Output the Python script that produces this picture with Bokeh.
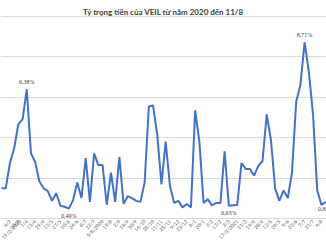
import math
from bokeh.plotting import figure
from bokeh.models import Range1d, FixedTicker, ColumnDataSource, LabelSet, Label
from bokeh.embed import file_html
from bokeh.resources import INLINE

title = "Tỷ trọng tiền của VEIL từ năm 2020 đến 11/8"

dates = ["19/2/2020", "26/2", "4/3", "11/3", "18/3", "25/3", "1/4", "8/4", "15/4", "22/4",
         "29/4", "6/5", "13/5", "20/5", "27/5", "3/6", "10/6", "17/6", "24/6", "1/7",
         "8/7", "15/7", "22/7", "29/7", "5/8/2020", "12/8", "19/8", "26/8", "2/9", "9/9",
         "16/9", "23/9", "30/9", "7/10", "14/10", "21/10", "28/10", "4/11", "11/11", "18/11",
         "25/11", "2/12", "9/12", "16/12", "23/12", "30/12", "6/1", "13/1", "20/1", "27/1",
         "3/2", "10/2", "17/2", "24/2", "3/3", "10/3", "17/3/2021", "24/3", "31/3", "7/4",
         "14/4", "21/4", "28/4", "5/5", "12/5", "19/5", "26/5", "2/6", "9/6", "16/6",
         "23/6", "30/6", "7/7", "14/7", "21/7", "28/7", "4/8", "11/8"]

share = [1.49, 1.49, 2.74, 3.46, 4.66, 4.90, 6.38, 3.22, 2.79, 1.83,
         1.49, 1.35, 0.87, 1.25, 0.63, 0.58, 0.49, 0.91, 1.78, 1.01,
         2.98, 0.82, 3.22, 2.64, 2.64, 0.67, 2.26, 0.82, 3.03, 0.72,
         1.11, 1.01, 0.87, 0.82, 1.78, 5.53, 5.58, 4.13, 1.68, 3.80,
         1.63, 0.77, 0.87, 0.55, 0.72, 0.55, 5.34, 3.80, 0.77, 0.96,
         0.65, 0.77, 0.77, 3.32, 0.63, 0.65, 0.67, 2.74, 2.45, 2.45,
         2.12, 2.60, 2.84, 5.14, 3.89, 1.49, 0.87, 1.39, 1.01, 2.26,
         5.77, 6.59, 8.71, 7.26, 5.14, 1.39, 0.67, 0.82]

label_idx = [6, 16, 54, 72, 77]
label_pos = ["above", "below", "below", "above", "below"]

idx = list(range(len(share)))

p = figure(width=326, height=245, output_backend="svg", toolbar_location=None,
           x_range=Range1d(-0.24, 77.2), y_range=Range1d(0, 10.77),
           min_border=0)
p.outline_line_color = None
p.background_fill_color = "white"
p.border_fill_color = "white"

p.yaxis.visible = False
p.ygrid.ticker = FixedTicker(ticks=[2, 4, 6, 8, 10])
p.ygrid.grid_line_color = "#d9d9d9"
p.ygrid.grid_line_width = 1
p.xgrid.visible = False

ax = p.xaxis[0]
ax.ticker = FixedTicker(ticks=[i for i in idx if i % 2 == 0])
ax.major_label_overrides = {i: dates[i] for i in idx}
ax.major_label_orientation = math.pi / 4
ax.axis_line_color = "#d9d9d9"
ax.major_tick_line_color = None
ax.minor_tick_line_color = None
ax.major_tick_out = 0
ax.major_tick_in = 0
ax.major_label_standoff = 2
ax.major_label_text_font = "Lato"
ax.major_label_text_font_size = "5px"
ax.major_label_text_color = "#595959"

p.line(idx, share, line_color="#4472C4", line_width=2)

ab = [i for i, pos in zip(label_idx, label_pos) if pos == "above"]
be = [i for i, pos in zip(label_idx, label_pos) if pos == "below"]
src_a = ColumnDataSource(dict(x=ab, y=[share[i] for i in ab],
                              t=[f"{share[i]:.2f}%".replace(".", ",") for i in ab]))
src_b = ColumnDataSource(dict(x=be, y=[share[i] for i in be],
                              t=[f"{share[i]:.2f}%".replace(".", ",") for i in be]))
p.add_layout(LabelSet(x="x", y="y", text="t", source=src_a, y_offset=4,
                      text_align="center", text_baseline="bottom",
                      text_font="Lato", text_font_size="6px", text_color="#404040"))
p.add_layout(LabelSet(x="x", y="y", text="t", source=src_b, y_offset=-4,
                      text_align="center", text_baseline="top",
                      text_font="Lato", text_font_size="6px", text_color="#404040"))

p.add_layout(Label(x=38.5, y=10.19, text=title, text_align="center",
                   text_baseline="middle", text_font="Lato", text_font_style="bold",
                   text_font_size="8px", text_color="#404040"))

open("out.html", "w").write(file_html(p, INLINE))
